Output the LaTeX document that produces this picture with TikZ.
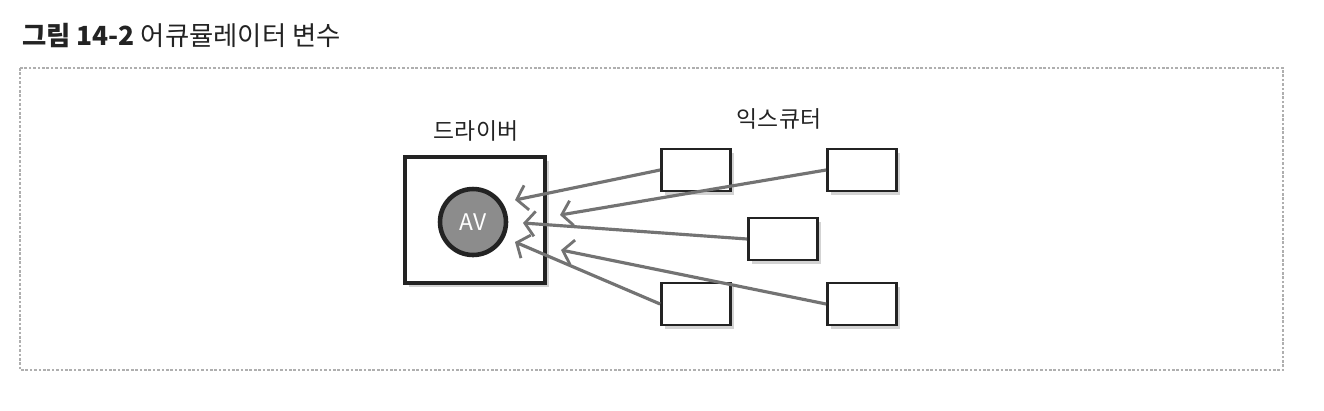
\documentclass[tikz,border=0pt]{standalone}
\usepackage{fontspec}
\setmainfont{Noto Sans CJK KR}
\usetikzlibrary{arrows.meta, shadows, positioning}
\definecolor{linegray}{RGB}{115,115,115}
\definecolor{avgray}{RGB}{140,140,140}
\definecolor{framegray}{RGB}{175,175,175}
\definecolor{inkblack}{RGB}{35,35,35}

\begin{document}
\begin{tikzpicture}[x=0.02cm, y=-0.02cm,
    execbox/.style={draw=inkblack, line width=1.6pt, fill=white, minimum width=1.38cm, minimum height=0.84cm,
      drop shadow={shadow xshift=0.07cm, shadow yshift=-0.07cm, opacity=0.35}},
    driverbox/.style={draw=inkblack, line width=2.3pt, fill=white, minimum width=2.8cm, minimum height=2.52cm,
      drop shadow={shadow xshift=0.08cm, shadow yshift=-0.08cm, opacity=0.35}},
    accum/.style={circle, draw=inkblack, line width=2.6pt, fill=avgray, minimum size=1.32cm, text=white,
      font=\fontsize{13}{15}\selectfont},
    handlabel/.style={text=inkblack, font=\fontsize{13}{15}\selectfont},
    conn/.style={draw=linegray, line width=1.8pt, -{Straight Barb[length=0.2cm, width=0.5cm, line width=1.6pt]}}]
    \useasboundingbox (0,0) rectangle (1324,410);
    % caption and frame
    \node[anchor=west, text=inkblack, font=\fontsize{15}{18}\selectfont] (title) at (16,36) {\textbf{그림 14-2} 어큐뮬레이터 변수};
    \draw[framegray, line width=0.6pt, dash pattern=on 1.5pt off 1pt] (20,68) rectangle (1283,370);

    % driver
    \node[driverbox] (driver) at (475,220) {};
    \node[accum] (av) at (473,222) {AV};
    \node[handlabel] (drvlabel) at (476,131) {드라이버};

    % executors
    \node[execbox] (e1) at (696,170) {};
    \node[execbox] (e2) at (862,170) {};
    \node[execbox] (e3) at (783,239) {};
    \node[execbox] (e4) at (696,304) {};
    \node[execbox] (e5) at (862,304) {};
    \node[handlabel] (exlabel) at (779,119) {익스큐터};

    % arrow ends at the accumulator
    \coordinate (t1) at (515,200);
    \coordinate (t2) at (560,215);
    \coordinate (t3) at (523,223);
    \coordinate (t4) at (515,242);
    \coordinate (t5) at (561,250);

    \draw[conn] (e1.west) -- (t1);
    \draw[conn] (e2.west) -- (t2);
    \draw[conn] (e3.west) -- (t3);
    \draw[conn] (e4.west) -- (t4);
    \draw[conn] (e5.west) -- (t5);
\end{tikzpicture}
\end{document}
